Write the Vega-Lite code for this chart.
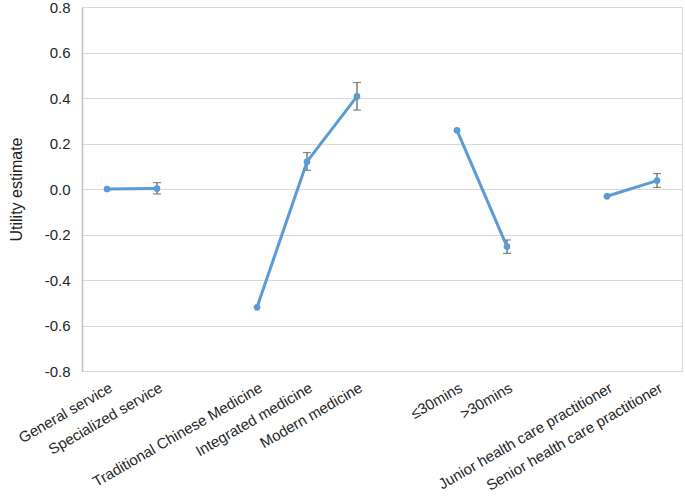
{
  "$schema": "https://vega.github.io/schema/vega-lite/v6.json",
  "autosize": "none",
  "width": 600,
  "height": 364,
  "padding": {"left": 82, "top": 7, "right": 3, "bottom": 125},
  "background": "white",
  "config": {
    "font": "Liberation Sans",
    "view": {"stroke": "#d9d9d9", "strokeWidth": 1}
  },
  "data": {
    "values": [
      {"attr": "General service", "group": "A", "est": 0.0, "lo": null, "hi": null},
      {"attr": "Specialized service", "group": "A", "est": 0.002, "lo": -0.022, "hi": 0.028},
      {"attr": "Traditional Chinese Medicine", "group": "B", "est": -0.52, "lo": null, "hi": null},
      {"attr": "Integrated medicine", "group": "B", "est": 0.12, "lo": 0.082, "hi": 0.16},
      {"attr": "Modern medicine", "group": "B", "est": 0.407, "lo": 0.347, "hi": 0.468},
      {"attr": "≤30mins", "group": "C", "est": 0.258, "lo": null, "hi": null},
      {"attr": ">30mins", "group": "C", "est": -0.253, "lo": -0.283, "hi": -0.224},
      {"attr": "Junior health care practitioner", "group": "D", "est": -0.032, "lo": null, "hi": null},
      {"attr": "Senior health care practitioner", "group": "D", "est": 0.037, "lo": 0.007, "hi": 0.068}
    ]
  },
  "encoding": {
    "x": {
      "field": "attr",
      "type": "nominal",
      "scale": {
        "type": "point",
        "padding": 0.5,
        "domain": ["General service", "Specialized service", "gap1", "Traditional Chinese Medicine", "Integrated medicine", "Modern medicine", "gap2", "≤30mins", ">30mins", "gap3", "Junior health care practitioner", "Senior health care practitioner"]
      },
      "axis": {
        "title": null,
        "labelExpr": "indexof(datum.label, 'gap') == 0 ? '' : datum.label",
        "labelAngle": -30,
        "labelAlign": "right",
        "labelBaseline": "top",
        "labelFontSize": 15,
        "labelColor": "#262626",
        "labelPadding": 9,
        "labelLimit": 400,
        "ticks": false,
        "domain": false,
        "grid": false,
        "labelOverlap": false,
        "labelBound": false
      }
    }
  },
  "layer": [
    {
      "mark": {"type": "rule", "color": "#595959", "strokeWidth": 1.2},
      "transform": [{"filter": "datum.lo != null"}],
      "encoding": {
        "y": {"field": "lo", "type": "quantitative"},
        "y2": {"field": "hi"}
      }
    },
    {
      "mark": {"type": "tick", "color": "#595959", "size": 8, "thickness": 1.2, "orient": "horizontal"},
      "transform": [{"filter": "datum.lo != null"}],
      "encoding": {"y": {"field": "lo", "type": "quantitative"}}
    },
    {
      "mark": {"type": "tick", "color": "#595959", "size": 8, "thickness": 1.2, "orient": "horizontal"},
      "transform": [{"filter": "datum.lo != null"}],
      "encoding": {"y": {"field": "hi", "type": "quantitative"}}
    },
    {
      "mark": {"type": "line", "color": "#5b9bd5", "strokeWidth": 3},
      "encoding": {
        "detail": {"field": "group", "type": "nominal"},
        "y": {
          "field": "est",
          "type": "quantitative",
          "scale": {"domain": [-0.8, 0.8], "nice": false, "zero": false},
          "axis": {
            "title": "Utility estimate",
            "titleFontSize": 16,
            "titleFontWeight": "normal",
            "titleColor": "#222222",
            "titlePadding": 20,
            "values": [-0.8, -0.6, -0.4, -0.2, 0, 0.2, 0.4, 0.6, 0.8],
            "labelExpr": "replace(format(datum.value, '.1f'), '\u2212', '-')",
            "labelFontSize": 15,
            "labelColor": "#262626",
            "labelPadding": 12,
            "ticks": false,
            "domainColor": "#bfbfbf",
            "domainWidth": 1.5,
            "gridColor": "#d9d9d9",
            "gridWidth": 1.2
          }
        }
      }
    },
    {
      "mark": {"type": "point", "filled": true, "color": "#5b9bd5", "size": 45, "opacity": 1},
      "encoding": {"y": {"field": "est", "type": "quantitative"}}
    }
  ]
}
